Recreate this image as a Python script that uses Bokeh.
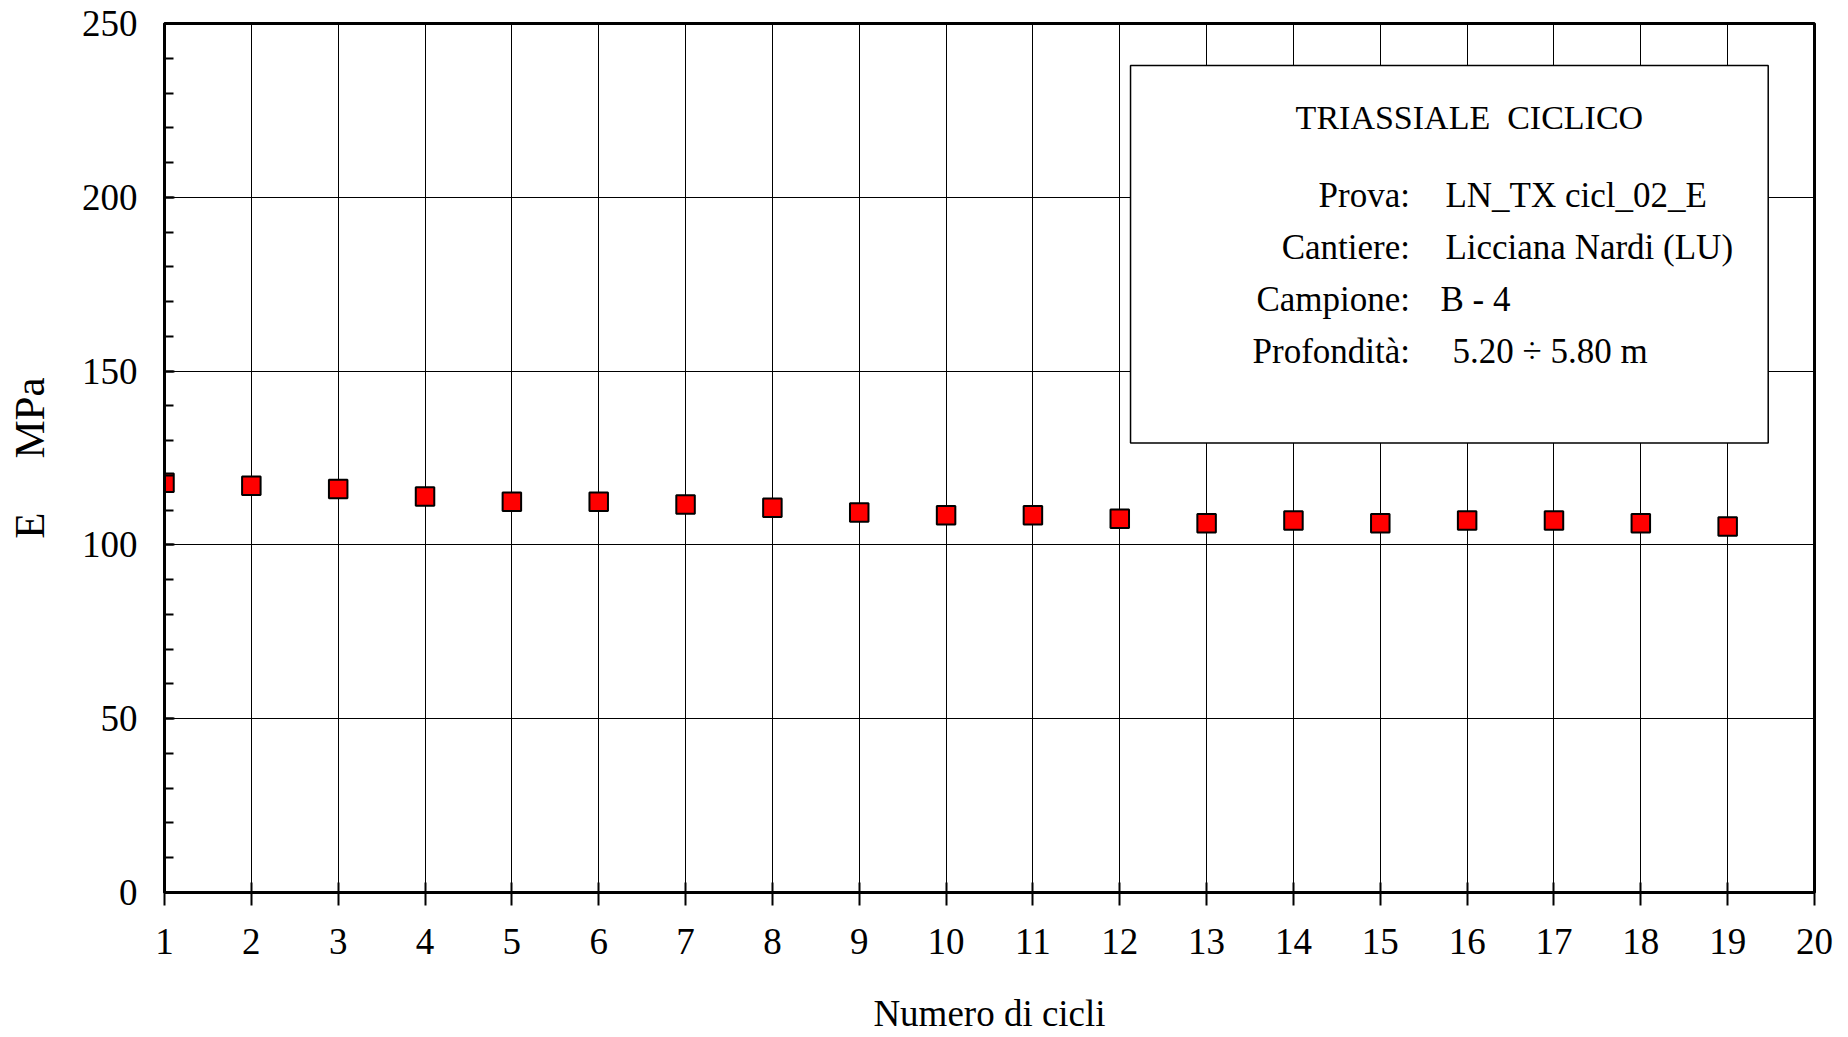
from bokeh.plotting import figure
from bokeh.models import Range1d, FixedTicker, BoxAnnotation, Label, ColumnDataSource
from bokeh.embed import file_html
from bokeh.resources import INLINE

# ---- data ----
cycles = [1, 2, 3, 4, 5, 6, 7, 8, 9, 10, 11, 12, 13, 14, 15, 16, 17, 18, 19]
E_MPa = [117.9, 117.0, 116.1, 113.9, 112.4, 112.4, 111.6, 110.7, 109.3, 108.5,
         108.5, 107.5, 106.2, 107.0, 106.2, 107.0, 107.0, 106.2, 105.3]
x_ticks = [1, 2, 3, 4, 5, 6, 7, 8, 9, 10, 11, 12, 13, 14, 15, 16, 17, 18, 19, 20]
y_ticks = [0, 50, 100, 150, 200, 250]
y_minor = [0, 10, 20, 30, 40, 50, 60, 70, 80, 90, 100, 110, 120, 130, 140, 150,
           160, 170, 180, 190, 200, 210, 220, 230, 240, 250]
x_label = "Numero di cicli"
y_label = "E\u00a0\u00a0\u00a0\u00a0\u00a0MPa"
box_title = "TRIASSIALE\u00a0\u00a0CICLICO"
info_keys = ["Prova:", "Cantiere:", "Campione:", "Profondità:"]
info_vals = ["LN_TX cicl_02_E", "Licciana Nardi (LU)", "B - 4", "5.20 ÷ 5.80 m"]

FONT = "Liberation Serif"

p = figure(width=1840, height=1036, output_backend="svg", toolbar_location=None,
           x_range=Range1d(1, 20), y_range=Range1d(0, 250),
           min_border_left=164, min_border_right=26, min_border_top=23,
           min_border_bottom=143)
p.background_fill_color = "white"
p.border_fill_color = "white"
p.outline_line_color = "black"
p.outline_line_width = 3

# grid
p.xgrid.ticker = FixedTicker(ticks=x_ticks)
p.ygrid.ticker = FixedTicker(ticks=y_ticks)
for g in (p.xgrid, p.ygrid):
    g.grid_line_color = "black"
    g.grid_line_width = 1
    g.grid_line_alpha = 1.0

# x axis
xa = p.xaxis[0]
xa.ticker = FixedTicker(ticks=x_ticks)
xa.axis_line_width = 3
xa.axis_line_color = "black"
xa.major_tick_line_color = "black"
xa.major_tick_line_width = 2
xa.major_tick_in = 10
xa.major_tick_out = 13
xa.minor_tick_line_color = None
xa.major_label_text_font = FONT
xa.major_label_text_font_size = "37px"
xa.major_label_text_color = "black"
xa.major_label_standoff = 23
xa.axis_label = x_label
xa.axis_label_text_font = FONT
xa.axis_label_text_font_size = "37px"
xa.axis_label_text_font_style = "normal"
xa.axis_label_text_color = "black"
xa.axis_label_standoff = 36

# y axis
ya = p.yaxis[0]
ya.ticker = FixedTicker(ticks=y_ticks, minor_ticks=y_minor)
ya.axis_line_width = 3
ya.axis_line_color = "black"
ya.major_tick_line_color = "black"
ya.minor_tick_line_color = "black"
ya.major_tick_line_width = 2
ya.major_tick_in = 10
ya.major_tick_out = 0
ya.minor_tick_line_width = 2
ya.minor_tick_in = 9
ya.minor_tick_out = 0
ya.major_label_text_font = FONT
ya.major_label_text_font_size = "37px"
ya.major_label_text_color = "black"
ya.major_label_standoff = 27
ya.axis_label = y_label
ya.axis_label_text_font = FONT
ya.axis_label_text_font_size = "43px"
ya.axis_label_text_font_style = "normal"
ya.axis_label_text_color = "black"
ya.axis_label_standoff = 26

# data
src = ColumnDataSource(dict(x=cycles, y=E_MPa))
p.scatter("x", "y", source=src, marker="square", size=18.5,
          fill_color="red", line_color="black", line_width=2)

# info box
box = BoxAnnotation(left=12.124, right=19.467, bottom=129.3, top=237.9,
                    fill_color="white", fill_alpha=1.0,
                    line_color="black", line_width=1.5, line_alpha=1.0)
p.add_layout(box)

p.add_layout(Label(x=16.026, y=222.9, text=box_title, text_align="center",
                   text_baseline="alphabetic", text_font=FONT,
                   text_font_size="34px", text_color="black"))

key_y = [200.6, 185.7, 170.6, 155.6]
val_x = [15.75, 15.75, 15.692, 15.831]
for k, v, yy, vx in zip(info_keys, info_vals, key_y, val_x):
    p.add_layout(Label(x=15.342, y=yy, text=k, text_align="right",
                       text_baseline="alphabetic", text_font=FONT,
                       text_font_size="35px", text_color="black"))
    p.add_layout(Label(x=vx, y=yy, text=v, text_align="left",
                       text_baseline="alphabetic", text_font=FONT,
                       text_font_size="35px", text_color="black"))

open("out.html", "w").write(file_html(p, INLINE))
